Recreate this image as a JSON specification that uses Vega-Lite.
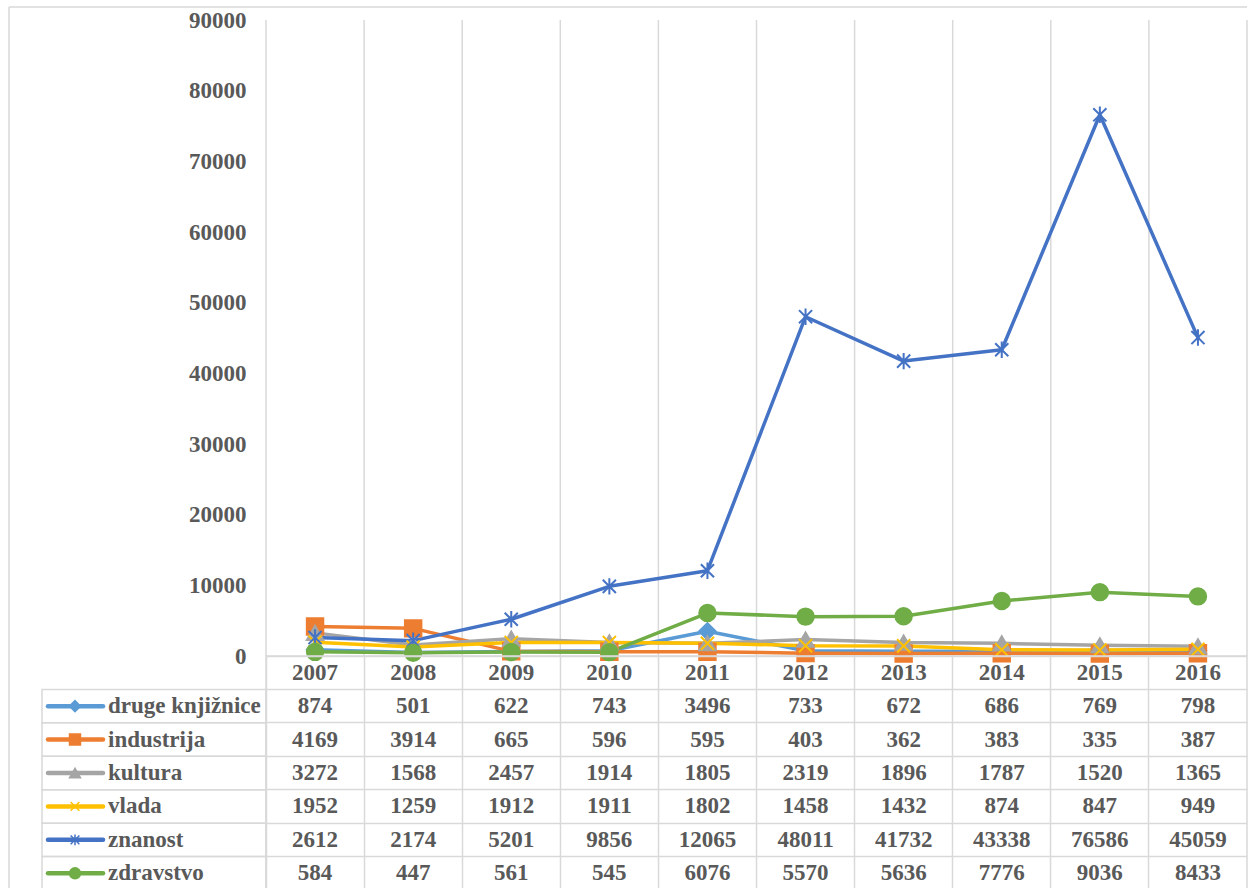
{
  "$schema": "https://vega.github.io/schema/vega-lite/v6.json",
  "padding": {"left": 8, "top": 6, "right": 2, "bottom": 0},
  "background": "white",
  "config": {"view": {"stroke": null}, "font": "Liberation Serif"},
  "columns": 2,
  "spacing": 0,
  "bounds": "flush",
  "align": "each",
  "datasets": {
    "years": [{"year": "2007"}, {"year": "2008"}, {"year": "2009"}, {"year": "2010"}, {"year": "2011"}, {"year": "2012"}, {"year": "2013"}, {"year": "2014"}, {"year": "2015"}, {"year": "2016"}],
    "series": [{"series": "druge knjižnice"}, {"series": "industrija"}, {"series": "kultura"}, {"series": "vlada"}, {"series": "znanost"}, {"series": "zdravstvo"}],
    "d": [
      {"series": "druge knjižnice", "year": "2007", "value": 874}, {"series": "druge knjižnice", "year": "2008", "value": 501}, {"series": "druge knjižnice", "year": "2009", "value": 622}, {"series": "druge knjižnice", "year": "2010", "value": 743}, {"series": "druge knjižnice", "year": "2011", "value": 3496}, {"series": "druge knjižnice", "year": "2012", "value": 733}, {"series": "druge knjižnice", "year": "2013", "value": 672}, {"series": "druge knjižnice", "year": "2014", "value": 686}, {"series": "druge knjižnice", "year": "2015", "value": 769}, {"series": "druge knjižnice", "year": "2016", "value": 798},
      {"series": "industrija", "year": "2007", "value": 4169}, {"series": "industrija", "year": "2008", "value": 3914}, {"series": "industrija", "year": "2009", "value": 665}, {"series": "industrija", "year": "2010", "value": 596}, {"series": "industrija", "year": "2011", "value": 595}, {"series": "industrija", "year": "2012", "value": 403}, {"series": "industrija", "year": "2013", "value": 362}, {"series": "industrija", "year": "2014", "value": 383}, {"series": "industrija", "year": "2015", "value": 335}, {"series": "industrija", "year": "2016", "value": 387},
      {"series": "kultura", "year": "2007", "value": 3272}, {"series": "kultura", "year": "2008", "value": 1568}, {"series": "kultura", "year": "2009", "value": 2457}, {"series": "kultura", "year": "2010", "value": 1914}, {"series": "kultura", "year": "2011", "value": 1805}, {"series": "kultura", "year": "2012", "value": 2319}, {"series": "kultura", "year": "2013", "value": 1896}, {"series": "kultura", "year": "2014", "value": 1787}, {"series": "kultura", "year": "2015", "value": 1520}, {"series": "kultura", "year": "2016", "value": 1365},
      {"series": "vlada", "year": "2007", "value": 1952}, {"series": "vlada", "year": "2008", "value": 1259}, {"series": "vlada", "year": "2009", "value": 1912}, {"series": "vlada", "year": "2010", "value": 1911}, {"series": "vlada", "year": "2011", "value": 1802}, {"series": "vlada", "year": "2012", "value": 1458}, {"series": "vlada", "year": "2013", "value": 1432}, {"series": "vlada", "year": "2014", "value": 874}, {"series": "vlada", "year": "2015", "value": 847}, {"series": "vlada", "year": "2016", "value": 949},
      {"series": "znanost", "year": "2007", "value": 2612}, {"series": "znanost", "year": "2008", "value": 2174}, {"series": "znanost", "year": "2009", "value": 5201}, {"series": "znanost", "year": "2010", "value": 9856}, {"series": "znanost", "year": "2011", "value": 12065}, {"series": "znanost", "year": "2012", "value": 48011}, {"series": "znanost", "year": "2013", "value": 41732}, {"series": "znanost", "year": "2014", "value": 43338}, {"series": "znanost", "year": "2015", "value": 76586}, {"series": "znanost", "year": "2016", "value": 45059},
      {"series": "zdravstvo", "year": "2007", "value": 584}, {"series": "zdravstvo", "year": "2008", "value": 447}, {"series": "zdravstvo", "year": "2009", "value": 561}, {"series": "zdravstvo", "year": "2010", "value": 545}, {"series": "zdravstvo", "year": "2011", "value": 6076}, {"series": "zdravstvo", "year": "2012", "value": 5570}, {"series": "zdravstvo", "year": "2013", "value": 5636}, {"series": "zdravstvo", "year": "2014", "value": 7776}, {"series": "zdravstvo", "year": "2015", "value": 9036}, {"series": "zdravstvo", "year": "2016", "value": 8433}
    ]
  },
  "concat": [
    {
      "width": 257,
      "height": 649,
      "data": {"values": [{}]},
      "layer": [
        {"mark": {"type": "rule", "color": "#D9D9D9", "strokeWidth": 1.5},
         "encoding": {"x": {"datum": 0, "type": "quantitative", "scale": {"domain": [0, 1], "nice": false}, "axis": null}}},
        {"mark": {"type": "rule", "color": "#D9D9D9", "strokeWidth": 1.5},
         "encoding": {"y": {"datum": 1, "type": "quantitative", "scale": {"domain": [0, 1], "nice": false}, "axis": null}}}
      ]
    },
    {
      "width": 981,
      "height": 649,
      "layer": [
        {
          "data": {"name": "years"},
          "mark": {"type": "rule", "color": "#D9D9D9", "strokeWidth": 1.5},
          "encoding": {
            "x": {"field": "year", "type": "ordinal", "bandPosition": 0, "scale": {"type": "band", "domain": ["2007","2008","2009","2010","2011","2012","2013","2014","2015","2016"], "paddingInner": 0, "paddingOuter": 0}, "axis": null},
            "y": {"datum": 0, "type": "quantitative", "scale": {"domain": [0, 91840], "nice": false, "zero": true}, "axis": {"values": [0,10000,20000,30000,40000,50000,60000,70000,80000,90000], "format": "d", "grid": false, "ticks": false, "domain": false, "labelPadding": 20, "labelFont": "Liberation Serif", "labelFontWeight": "bold", "labelFontSize": 23, "labelColor": "#595959", "title": null, "labelOverlap": false, "labelFlush": false}},
            "y2": {"datum": 90000}
          }
        },
        {
          "data": {"values": [{}]},
          "mark": {"type": "rule", "color": "#D9D9D9", "strokeWidth": 1.5},
          "encoding": {
            "x": {"datum": "2016", "type": "ordinal", "bandPosition": 1},
            "y": {"datum": 0, "type": "quantitative"},
            "y2": {"datum": 90000}
          }
        },
        {
          "data": {"values": [{}]},
          "mark": {"type": "rule", "color": "#D9D9D9", "strokeWidth": 1.5},
          "encoding": {"y": {"datum": 91840, "type": "quantitative"}}
        },
        {
          "data": {"name": "d"},
          "mark": {"type": "line", "strokeWidth": 3.5, "strokeJoin": "round", "strokeCap": "round"},
          "encoding": {
            "x": {"field": "year", "type": "ordinal"},
            "y": {"field": "value", "type": "quantitative"},
            "color": {"field": "series", "type": "nominal", "scale": {"domain": ["druge knjižnice","industrija","kultura","vlada","znanost","zdravstvo"], "range": ["#5B9BD5","#ED7D31","#A5A5A5","#FFC000","#4472C4","#70AD47"]}, "legend": null},
            "detail": {"field": "series"}
          }
        },
        {
          "data": {"name": "d"},
          "mark": {"type": "point", "filled": true, "size": 270, "strokeWidth": 2, "opacity": 1},
          "encoding": {
            "x": {"field": "year", "type": "ordinal"},
            "y": {"field": "value", "type": "quantitative"},
            "shape": {"field": "series", "type": "nominal", "scale": {"domain": ["druge knjižnice","industrija","kultura","vlada","znanost","zdravstvo"], "range": ["diamond","square","triangle-up","M-0.8,-0.8L0.8,0.8M-0.8,0.8L0.8,-0.8","M-0.8,-0.8L0.8,0.8M-0.8,0.8L0.8,-0.8M0,-1L0,1","circle"]}, "legend": null},
            "fill": {"field": "series", "type": "nominal", "scale": {"domain": ["druge knjižnice","industrija","kultura","vlada","znanost","zdravstvo"], "range": ["#5B9BD5","#ED7D31","#A5A5A5","#FFC000","#4472C4","#70AD47"]}, "legend": null},
            "stroke": {"field": "series", "type": "nominal", "scale": {"domain": ["druge knjižnice","industrija","kultura","vlada","znanost","zdravstvo"], "range": ["#5B9BD5","#ED7D31","#A5A5A5","#FFC000","#4472C4","#70AD47"]}, "legend": null}
          }
        }
      ]
    },
    {
      "width": 257,
      "height": 234,
      "layer": [
        {
          "data": {"values": [{}]},
          "mark": {"type": "rule", "color": "#D9D9D9", "strokeWidth": 1.5},
          "encoding": {"x": {"datum": 0, "type": "quantitative", "scale": {"domain": [0, 257], "nice": false, "zero": false}, "axis": null}}
        },
        {
          "data": {"name": "series"},
          "mark": {"type": "rect", "fillOpacity": 0, "stroke": "#D9D9D9", "strokeWidth": 1.5},
          "encoding": {
            "x": {"datum": 33, "type": "quantitative"},
            "x2": {"datum": 257},
            "y": {"field": "series", "type": "nominal", "scale": {"type": "band", "domain": ["_","druge knjižnice","industrija","kultura","vlada","znanost","zdravstvo"], "paddingInner": 0, "paddingOuter": 0}, "axis": null}
          }
        },
        {
          "data": {"name": "series"},
          "mark": {"type": "rule", "strokeWidth": 4.5, "strokeCap": "round"},
          "encoding": {
            "x": {"datum": 39, "type": "quantitative"},
            "x2": {"datum": 94},
            "y": {"field": "series", "type": "nominal"},
            "color": {"field": "series", "type": "nominal", "scale": {"domain": ["druge knjižnice","industrija","kultura","vlada","znanost","zdravstvo"], "range": ["#5B9BD5","#ED7D31","#A5A5A5","#FFC000","#4472C4","#70AD47"]}, "legend": null}
          }
        },
        {
          "data": {"name": "series"},
          "mark": {"type": "point", "filled": true, "size": 120, "strokeWidth": 1.5, "opacity": 1},
          "encoding": {
            "x": {"datum": 66, "type": "quantitative"},
            "y": {"field": "series", "type": "nominal"},
            "shape": {"field": "series", "type": "nominal", "scale": {"domain": ["druge knjižnice","industrija","kultura","vlada","znanost","zdravstvo"], "range": ["diamond","square","triangle-up","M-0.8,-0.8L0.8,0.8M-0.8,0.8L0.8,-0.8","M-0.8,-0.8L0.8,0.8M-0.8,0.8L0.8,-0.8M0,-1L0,1","circle"]}, "legend": null},
            "fill": {"field": "series", "type": "nominal", "scale": {"domain": ["druge knjižnice","industrija","kultura","vlada","znanost","zdravstvo"], "range": ["#5B9BD5","#ED7D31","#A5A5A5","#FFC000","#4472C4","#70AD47"]}, "legend": null},
            "stroke": {"field": "series", "type": "nominal", "scale": {"domain": ["druge knjižnice","industrija","kultura","vlada","znanost","zdravstvo"], "range": ["#5B9BD5","#ED7D31","#A5A5A5","#FFC000","#4472C4","#70AD47"]}, "legend": null}
          }
        },
        {
          "data": {"name": "series"},
          "mark": {"type": "text", "align": "left", "baseline": "middle", "font": "Liberation Serif", "fontWeight": "bold", "fontSize": 23, "color": "#595959"},
          "encoding": {
            "x": {"datum": 99, "type": "quantitative"},
            "y": {"field": "series", "type": "nominal"},
            "text": {"field": "series"}
          }
        }
      ]
    },
    {
      "width": 981,
      "height": 234,
      "view": {"stroke": "#D9D9D9", "strokeWidth": 1.5},
      "layer": [
        {
          "data": {"name": "d"},
          "mark": {"type": "text", "align": "center", "baseline": "middle", "font": "Liberation Serif", "fontWeight": "bold", "fontSize": 23, "color": "#595959"},
          "encoding": {
            "x": {"field": "year", "type": "ordinal", "scale": {"type": "band", "domain": ["2007","2008","2009","2010","2011","2012","2013","2014","2015","2016"], "paddingInner": 0, "paddingOuter": 0}, "axis": {"grid": true, "gridColor": "#D9D9D9", "gridWidth": 1.5, "bandPosition": 0, "labels": false, "ticks": false, "domain": false, "title": null}},
            "y": {"field": "series", "type": "nominal", "scale": {"type": "band", "domain": ["_","druge knjižnice","industrija","kultura","vlada","znanost","zdravstvo"], "paddingInner": 0, "paddingOuter": 0}, "axis": {"grid": true, "gridColor": "#D9D9D9", "gridWidth": 1.5, "bandPosition": 0, "labels": false, "ticks": false, "domain": false, "title": null}},
            "text": {"field": "value", "type": "quantitative", "format": "d"}
          }
        },
        {
          "data": {"name": "years"},
          "mark": {"type": "text", "align": "center", "baseline": "middle", "font": "Liberation Serif", "fontWeight": "bold", "fontSize": 23, "color": "#595959"},
          "encoding": {
            "x": {"field": "year", "type": "ordinal"},
            "y": {"datum": "_", "type": "nominal"},
            "text": {"field": "year"}
          }
        }
      ]
    }
  ]
}
